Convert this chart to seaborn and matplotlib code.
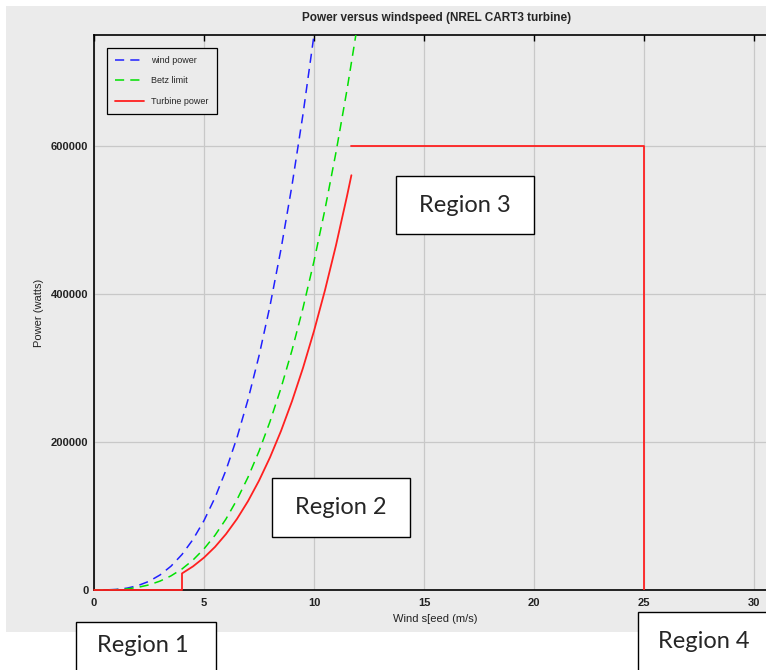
import numpy as np
import pandas as pd
import matplotlib.pyplot as plt
import matplotlib.patches as mpatches
import seaborn as sns

# wind speed samples (m/s) and power (W)
wind_speed = [0, 0.5, 1, 1.5, 2, 2.5, 3, 3.5, 4, 4.5, 5, 5.5, 6, 6.5, 7, 7.5,
              8, 8.5, 9, 9.5, 10]
wind_power = [0, 100, 750, 2500, 6000, 11700, 20300, 32200, 48000, 68300,
              93800, 124800, 162000, 206000, 257300, 316400, 384000, 460600,
              546800, 643000, 750000]

betz_speed = [0, 0.5, 1, 1.5, 2, 2.5, 3, 3.5, 4, 4.5, 5, 5.5, 6, 6.5, 7, 7.5,
              8, 8.5, 9, 9.5, 10, 10.5, 11, 11.5, 12]
betz_power = [0, 60, 440, 1500, 3600, 6900, 12000, 19100, 28400, 40500, 55600,
              73900, 96000, 122100, 152400, 187500, 227600, 272900, 324000,
              381100, 444400, 514500, 591600, 675900, 768000]

# region 1 + region 2 of the turbine curve
turb_speed = [0, 4, 4, 4.5, 5, 5.5, 6, 6.5, 7, 7.5, 8, 8.5, 9, 9.5, 10, 10.5,
              11, 11.5, 11.7]
turb_power = [0, 0, 22400, 31900, 43750, 58200, 75600, 96100, 120050, 147700,
              179200, 214900, 255150, 300100, 350000, 405200, 465850, 532300,
              560500]
# region 3 (rated) and cut-out at 25 m/s
rated_speed = [11.7, 25, 25]
rated_power = [600000, 600000, 0]

x_ticks = [0, 5, 10, 15, 20, 25, 30]
y_ticks = [0, 200000, 400000, 600000]

W, H = 766, 670
BG = '#ebebeb'


def fx(px):
    return px / W


def fy(py):
    return 1 - py / H


sns.set_theme(style="whitegrid")
plt.rcParams['font.family'] = ['Liberation Sans', 'DejaVu Sans']

fig = plt.figure(figsize=(W / 100, H / 100), dpi=100)
fig.patch.set_facecolor('white')
fig.add_artist(mpatches.Rectangle((fx(6), fy(632)), fx(760), 626 / H,
                                  transform=fig.transFigure, fc=BG, ec='none',
                                  zorder=0))

ax = fig.add_axes([fx(94), fy(590), fx(704), 555 / H])
ax.set_facecolor(BG)

sns.lineplot(x=wind_speed, y=wind_power, ax=ax, color='#2020ff', lw=1.1,
             linestyle=(0, (6, 4)), sort=False, estimator=None,
             label='wind power', zorder=3)
sns.lineplot(x=betz_speed, y=betz_power, ax=ax, color='#00e000', lw=1.1,
             linestyle=(0, (6, 4)), sort=False, estimator=None,
             label='Betz limit', zorder=3)
sns.lineplot(x=turb_speed, y=turb_power, ax=ax, color='#ff2020', lw=1.3,
             sort=False, estimator=None, label='Turbine power', zorder=4,
             clip_on=False)
sns.lineplot(x=rated_speed, y=rated_power, ax=ax, color='#ff2020', lw=1.3,
             sort=False, estimator=None, zorder=3)

ax.set_xlim(0, 32)
ax.set_ylim(0, 750000)
ax.set_xticks(x_ticks)
ax.set_yticks(y_ticks)
ax.ticklabel_format(style='plain', axis='y')
ax.grid(True, color='#c8c8c8', lw=0.9)
ax.tick_params(direction='in', length=4, width=1, color='black', top=True,
               labelsize=8)
ax.tick_params(axis='x', pad=6)
ax.tick_params(axis='y', pad=4)
for lab in ax.get_xticklabels() + ax.get_yticklabels():
    lab.set_fontweight('bold')
    lab.set_color('#222222')
for s in ['left', 'bottom', 'top']:
    ax.spines[s].set_color('black')
    ax.spines[s].set_linewidth(1.2)
ax.spines['right'].set_visible(False)

ax.set_xlabel('')
ax.set_ylabel('')
fig.text(fx(435), fy(619), 'Wind s[eed (m/s)', ha='center', va='center',
         fontsize=8, color='#222222')
fig.text(fx(39), fy(313), 'Power (watts)', ha='center', va='center',
         rotation=90, fontsize=8, color='#222222')
fig.text(fx(437), fy(18), 'Power versus windspeed (NREL CART3 turbine)',
         ha='center', va='center', fontsize=8.5, fontweight='bold')

leg = ax.legend(loc='upper left',
                bbox_to_anchor=(fx(107 - 94) / fx(704), 1 - (48 - 35) / 555),
                borderaxespad=0, fontsize=6.5, frameon=True, fancybox=False,
                facecolor=BG, edgecolor='black', framealpha=1,
                handlelength=3.2, labelspacing=1.25, borderpad=0.9)
leg.get_frame().set_linewidth(0.9)

# annotation boxes
boxes = [('Region 1', 76, 622, 216, 680, 143, 645),
         ('Region 2', 272, 478, 410, 537, 341, 507),
         ('Region 3', 396, 176, 534, 234, 465, 205),
         ('Region 4', 638, 612, 780, 680, 704, 642)]
for txt, x0, y0, x1, y1, tx, ty in boxes:
    fig.add_artist(mpatches.Rectangle((fx(x0), fy(y1)), fx(x1 - x0), (y1 - y0) / H,
                                      transform=fig.transFigure, fc='white',
                                      ec='black', lw=1, zorder=5))
    fig.text(fx(tx), fy(ty), txt, ha='center', va='center', fontsize=17,
             family=['Lato', 'DejaVu Sans'], zorder=6)

fig.savefig('out.png', dpi=100)
